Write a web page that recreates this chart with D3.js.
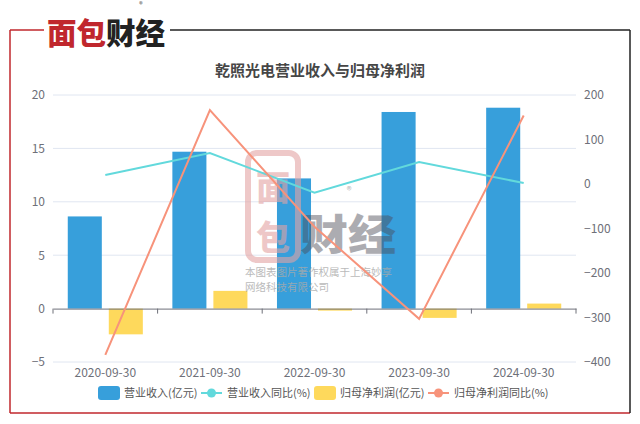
<!DOCTYPE html>
<html>
<head>
<meta charset="utf-8">
<script src="https://cdn.jsdelivr.net/npm/d3@7/dist/d3.min.js"></script>
<style>
  body { margin: 0; background: #fff; }
  svg { display: block; font-family: "Noto Sans CJK SC", "Noto Sans", sans-serif; }
</style>
</head>
<body>
<script>
// data
var categories = ["2020-09-30", "2021-09-30", "2022-09-30", "2023-09-30", "2024-09-30"];
var revenue = [8.63, 14.69, 12.19, 18.41, 18.81];        // 营业收入(亿元)
var revenueYoy = [20.2, 69.7, -19.5, 49.4, 2.2];          // 营业收入同比(%)
var netProfit = [-2.41, 1.66, -0.19, -0.87, 0.47];        // 归母净利润(亿元)
var netProfitYoy = [-384, 166, -96, -303, 154];           // 归母净利润同比(%)
var leftTicks = [-5, 0, 5, 10, 15, 20];
var rightTicks = [-400, -300, -200, -100, 0, 100, 200];

var w = 640, h = 424;
var colors = { rev: "#379fdb", revYoy: "#62d9dc", np: "#fed95c", npYoy: "#f7937b" };

var svg = d3.select("body").append("svg").attr("width", w).attr("height", h);

// frame
svg.append("line").attr("x1", 10).attr("y1", 30).attr("x2", 10).attr("y2", 413)
  .attr("stroke", "#c0272d").attr("stroke-width", 1.5);
svg.append("line").attr("x1", 10).attr("y1", 413).attr("x2", 630).attr("y2", 413)
  .attr("stroke", "#c0272d").attr("stroke-width", 1.5);
svg.append("line").attr("x1", 10).attr("y1", 30).attr("x2", 44).attr("y2", 30)
  .attr("stroke", "#c0272d").attr("stroke-width", 1.5);
svg.append("line").attr("x1", 170).attr("y1", 30).attr("x2", 630).attr("y2", 30)
  .attr("stroke", "#222").attr("stroke-width", 1.5);
svg.append("line").attr("x1", 630).attr("y1", 30).attr("x2", 630).attr("y2", 413)
  .attr("stroke", "#222").attr("stroke-width", 1.5);

// logo
var logo = svg.append("text").attr("x", 47).attr("y", 44)
  .attr("font-size", 30).attr("font-weight", 900)
  .attr("textLength", 118).attr("lengthAdjust", "spacingAndGlyphs");
logo.append("tspan").attr("fill", "#c0272d").text("面包");
logo.append("tspan").attr("fill", "#222").text("财经");
svg.append("text").attr("x", 141).attr("y", 7).attr("font-size", 7)
  .attr("text-anchor", "middle").attr("fill", "#333").text("®");

// title
svg.append("text").attr("x", 320).attr("y", 76).attr("text-anchor", "middle")
  .attr("font-size", 15).attr("font-weight", "bold").attr("fill", "#464646")
  .text("乾照光电营业收入与归母净利润");

// scales
var x = d3.scaleBand().domain(categories).range([53, 576]);
var inner = d3.scaleBand().domain(["rev", "np"]).range([0, x.bandwidth()])
  .paddingInner(0.17).paddingOuter(0.36);
var yL = d3.scaleLinear().domain([-5, 20]).range([362, 95]);
var yR = d3.scaleLinear().domain([-400, 200]).range([362, 95]);

// grid lines
svg.append("g").selectAll("line").data(leftTicks.filter(function (d) { return d !== 0; }))
  .enter().append("line")
  .attr("x1", 53).attr("x2", 576)
  .attr("y1", function (d) { return yL(d); }).attr("y2", function (d) { return yL(d); })
  .attr("stroke", "#e0e6f1").attr("stroke-width", 1);

// left axis
var gl = svg.append("g").attr("transform", "translate(53,0)")
  .call(d3.axisLeft(yL).tickValues(leftTicks).tickSize(0).tickPadding(8));
gl.select(".domain").remove();
gl.selectAll("text").attr("fill", "#6e7079").attr("font-size", 12)
  .attr("font-family", "'Noto Sans CJK SC', sans-serif");

// right axis
var gr = svg.append("g").attr("transform", "translate(576,0)")
  .call(d3.axisRight(yR).tickValues(rightTicks).tickSize(0).tickPadding(8));
gr.select(".domain").remove();
gr.selectAll("text").attr("fill", "#6e7079").attr("font-size", 12)
  .attr("font-family", "'Noto Sans CJK SC', sans-serif");

// bars
svg.append("g").selectAll("rect").data(revenue).enter().append("rect")
  .attr("x", function (d, i) { return x(categories[i]) + inner("rev"); })
  .attr("y", function (d) { return yL(Math.max(0, d)); })
  .attr("width", inner.bandwidth())
  .attr("height", function (d) { return Math.abs(yL(d) - yL(0)); })
  .attr("fill", colors.rev);
svg.append("g").selectAll("rect").data(netProfit).enter().append("rect")
  .attr("x", function (d, i) { return x(categories[i]) + inner("np"); })
  .attr("y", function (d) { return yL(Math.max(0, d)); })
  .attr("width", inner.bandwidth())
  .attr("height", function (d) { return Math.abs(yL(d) - yL(0)); })
  .attr("fill", colors.np);

// x axis at zero
var gx = svg.append("g").attr("transform", "translate(0," + yL(0) + ")")
  .call(d3.axisBottom(x).tickSize(0).tickFormat(""));
gx.select(".domain").attr("stroke", "#6e7079");
gx.selectAll(".tick").remove();
var bounds = [53].concat(categories.map(function (c) { return x(c) + x.bandwidth(); }));
gx.selectAll("line.tk").data(bounds).enter().append("line").attr("class", "tk")
  .attr("x1", function (d) { return d; }).attr("x2", function (d) { return d; })
  .attr("y1", 0).attr("y2", 5).attr("stroke", "#6e7079");

// category labels
svg.append("g").selectAll("text").data(categories).enter().append("text")
  .attr("x", function (d) { return x(d) + x.bandwidth() / 2; })
  .attr("y", 377).attr("text-anchor", "middle")
  .attr("font-size", 12).attr("fill", "#6e7079").text(function (d) { return d; });

// watermark (drawn over the bars, semi-transparent)
var wm = svg.append("g");
wm.append("rect").attr("x", 248).attr("y", 153).attr("width", 50).attr("height", 107)
  .attr("rx", 9).attr("fill", "none").attr("stroke", "#e3a3a3").attr("stroke-width", 6)
  .attr("opacity", 0.6);
wm.append("text").attr("x", 273).attr("y", 200).attr("text-anchor", "middle")
  .attr("font-size", 34).attr("font-weight", 900).attr("fill", "#e3a3a3").attr("opacity", 0.6).text("面");
wm.append("text").attr("x", 273).attr("y", 250).attr("text-anchor", "middle")
  .attr("font-size", 34).attr("font-weight", 900).attr("fill", "#e3a3a3").attr("opacity", 0.6).text("包");
wm.append("text").attr("x", 300).attr("y", 250).attr("font-size", 42).attr("font-weight", 900)
  .attr("fill", "#4a4a55").attr("opacity", 0.45)
  .attr("textLength", 96).attr("lengthAdjust", "spacingAndGlyphs").text("财经");
wm.append("text").attr("x", 349).attr("y", 194).attr("font-size", 10).attr("text-anchor", "middle")
  .attr("fill", "#888").attr("opacity", 0.6).text("®");
wm.append("text").attr("x", 245).attr("y", 276).attr("font-size", 10.5).attr("fill", "#aaa")
  .attr("opacity", 0.8).text("本图表图片著作权属于上海妙享");
wm.append("text").attr("x", 245).attr("y", 291).attr("font-size", 10.5).attr("fill", "#aaa")
  .attr("opacity", 0.8).text("网络科技有限公司");

// lines
var line = d3.line()
  .x(function (d, i) { return x(categories[i]) + x.bandwidth() / 2; })
  .y(function (d) { return yR(d); });
svg.append("path").datum(revenueYoy).attr("d", line)
  .attr("fill", "none").attr("stroke", colors.revYoy).attr("stroke-width", 2);
svg.append("path").datum(netProfitYoy).attr("d", line)
  .attr("fill", "none").attr("stroke", colors.npYoy).attr("stroke-width", 2);

// legend
var legend = [
  { name: "营业收入(亿元)", color: colors.rev, type: "bar", x: 98 },
  { name: "营业收入同比(%)", color: colors.revYoy, type: "line", x: 201 },
  { name: "归母净利润(亿元)", color: colors.np, type: "bar", x: 314 },
  { name: "归母净利润同比(%)", color: colors.npYoy, type: "line", x: 428 }
];
var lg = svg.append("g").selectAll("g").data(legend).enter().append("g")
  .attr("transform", function (d) { return "translate(" + d.x + ",393)"; });
lg.filter(function (d) { return d.type === "bar"; }).append("rect")
  .attr("x", 0).attr("y", -7).attr("width", 22).attr("height", 14).attr("rx", 3)
  .attr("fill", function (d) { return d.color; });
lg.filter(function (d) { return d.type === "line"; }).append("line")
  .attr("x1", 0).attr("x2", 21).attr("y1", 0).attr("y2", 0)
  .attr("stroke", function (d) { return d.color; }).attr("stroke-width", 2);
lg.filter(function (d) { return d.type === "line"; }).append("circle")
  .attr("cx", 10.5).attr("cy", 0).attr("r", 4.5)
  .attr("fill", function (d) { return d.color; });
lg.append("text").attr("x", 26).attr("y", 4).attr("font-size", 11).attr("fill", "#555")
  .text(function (d) { return d.name; });
</script>
</body>
</html>
